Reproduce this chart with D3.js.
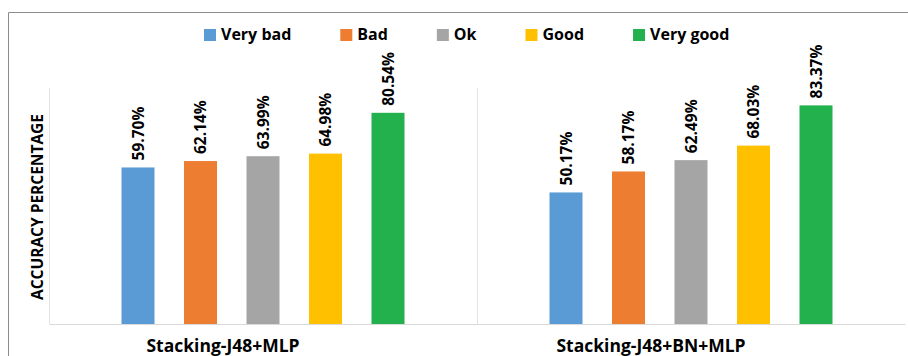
<!DOCTYPE html>
<html>
<head>
<meta charset="utf-8">
<script src="https://cdn.jsdelivr.net/npm/d3@7/dist/d3.min.js"></script>
<style>
  html, body { margin: 0; padding: 0; background: #fff; }
  svg { display: block; font-family: "Open Sans", "Noto Sans", sans-serif; }
</style>
</head>
<body>
<svg id="chart" width="908" height="356"></svg>
<script>
// Accuracy of the two stacking ensembles, per rating class
const categories = ["Stacking-J48+MLP", "Stacking-J48+BN+MLP"];
const series = ["Very bad", "Bad", "Ok", "Good", "Very good"];
const colors = ["#5B9BD5", "#ED7D31", "#A5A5A5", "#FFC000", "#22B14C"];
const stackingJ48MLP = [59.70, 62.14, 63.99, 64.98, 80.54];
const stackingJ48BNMLP = [50.17, 58.17, 62.49, 68.03, 83.37];
const yMax = 90;
const yTitle = "ACCURACY PERCENTAGE";

const valuesByCategory = [stackingJ48MLP, stackingJ48BNMLP];
const rows = categories.map((c, i) => ({
  category: c,
  bars: series.map((s, j) => ({ series: s, value: valuesByCategory[i][j], color: colors[j] }))
}));

const svg = d3.select("#chart");
const W = 908, H = 356;
const plot = { left: 49, right: 905, top: 88, bottom: 324 };

// chart frame (its right and bottom edges lie outside the view)
svg.append("path")
  .attr("d", `M8.5,${H}V12.5H${W}`)
  .attr("fill", "none").attr("stroke", "#8c8c8c").attr("stroke-width", 1);

const x0 = d3.scaleBand().domain(categories).range([plot.left, plot.right]).padding(0);
const x1 = d3.scaleBand().domain(series).range([0, x0.bandwidth()])
  .paddingInner(0.472).paddingOuter(1.16);
const y = d3.scaleLinear().domain([0, yMax]).range([plot.bottom, plot.top]);

// light vertical dividers between categories
const dividers = [plot.left, ...categories.slice(1).map(c => x0(c))];
svg.append("g").selectAll("line").data(dividers).join("line")
  .attr("x1", d => d + 0.5).attr("x2", d => d + 0.5)
  .attr("y1", plot.top).attr("y2", plot.bottom)
  .attr("stroke", "#e3e3e3").attr("stroke-width", 1);

// category axis
const xAxis = d3.axisBottom(x0).tickSize(0).tickSizeOuter(0).tickPadding(0);
const gx = svg.append("g").attr("transform", `translate(0,${plot.bottom})`).call(xAxis);
gx.select(".domain").attr("stroke", "#d9d9d9").attr("stroke-width", 1.2);
gx.selectAll(".tick text")
  .attr("x", -40)
  .attr("dy", 0)
  .attr("y", 28)
  .attr("fill", "#000")
  .style("font-size", "17.5px")
  .style("font-weight", "700")
  .style("font-family", "'Open Sans', sans-serif");

// bars
const groups = svg.append("g").selectAll("g").data(rows).join("g")
  .attr("transform", d => `translate(${x0(d.category)},0)`);

groups.selectAll("rect").data(d => d.bars).join("rect")
  .attr("x", d => x1(d.series))
  .attr("y", d => y(d.value))
  .attr("width", x1.bandwidth())
  .attr("height", d => y(0) - y(d.value))
  .attr("fill", d => d.color);

// value labels, rotated above each bar
groups.selectAll("text").data(d => d.bars).join("text")
  .attr("transform", d => `translate(${x1(d.series) + x1.bandwidth() / 2},${y(d.value) - 7}) rotate(-90)`)
  .attr("dy", "0.36em")
  .attr("text-anchor", "start")
  .style("font-size", "15.5px")
  .style("font-weight", "700")
  .attr("fill", "#000")
  .text(d => d.value.toFixed(2) + "%");

// y axis title
svg.append("text")
  .attr("transform", `translate(37.5,${(plot.top + plot.bottom) / 2 + 1}) rotate(-90)`)
  .attr("text-anchor", "middle")
  .attr("dy", "0.36em")
  .style("font-size", "15.5px")
  .style("font-weight", "700")
  .attr("fill", "#000")
  .text(yTitle);

// legend
const legend = svg.append("g").attr("transform", "translate(204,29)");
let lx = 0;
series.forEach((s, i) => {
  const item = legend.append("g").attr("transform", `translate(${lx},0)`);
  item.append("rect").attr("width", 12).attr("height", 12).attr("fill", colors[i]);
  const t = item.append("text")
    .attr("x", 17).attr("y", 11)
    .style("font-size", "16px")
    .style("font-weight", "700")
    .attr("fill", "#000")
    .text(s);
  lx += 17 + t.node().getComputedTextLength() + 49;
});
</script>
</body>
</html>
